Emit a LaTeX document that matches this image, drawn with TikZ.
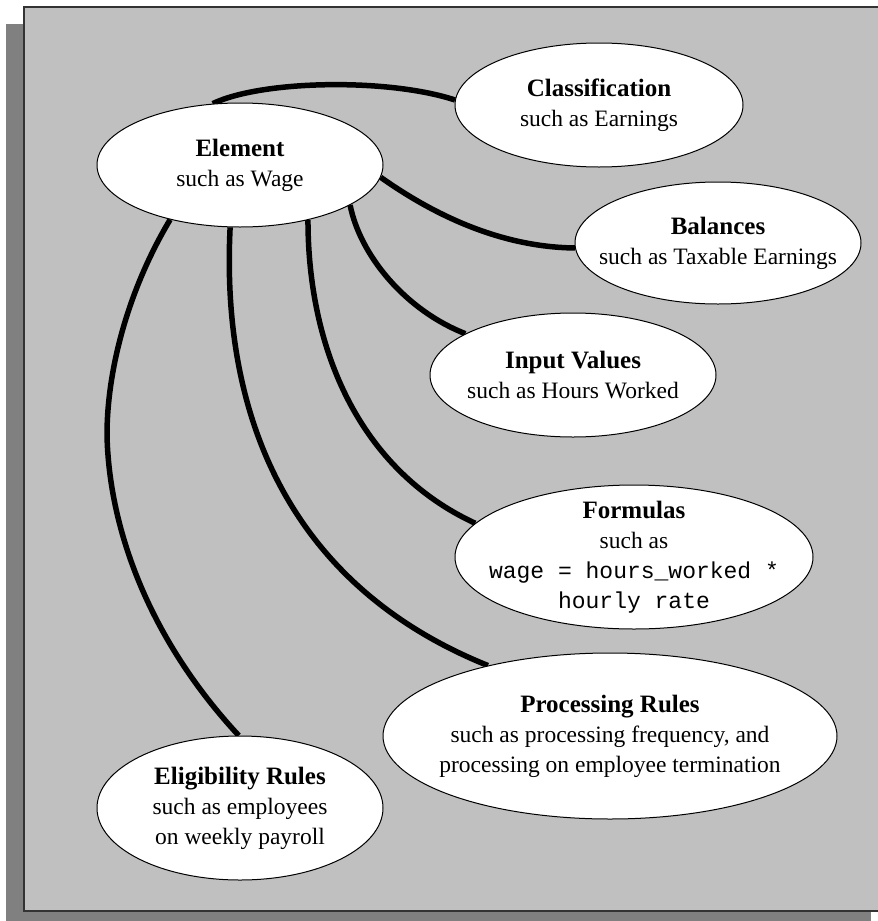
\documentclass[tikz,border=0pt]{standalone}
\usepackage{fontspec}
\setmainfont{Liberation Serif}
\setmonofont{Liberation Mono}
\usetikzlibrary{shapes.geometric}
\definecolor{panelgray}{HTML}{C0C0C0}
\definecolor{shadowgray}{HTML}{808080}
\definecolor{bordergray}{HTML}{333333}
\pgfdeclarelayer{bg}
\pgfdeclarelayer{links}
\pgfsetlayers{bg,links,main}
\begin{document}
\begin{tikzpicture}[x=1pt,y=-1pt,
  bubble/.style={ellipse,draw=black,line width=1pt,fill=white,inner sep=0pt},
  btext/.style={align=center,inner sep=0pt,font=\fontsize{23.5}{30}\selectfont},
  link/.style={line width=5.5pt,black}]
\useasboundingbox (0,0) rectangle (878,921);
\begin{pgfonlayer}{bg}
\fill[shadowgray] (6,24) rectangle (871,921);
\fill[panelgray] (24,7) rectangle (880,911);
\draw[bordergray,line width=2pt] (880,7) -- (24,7) -- (24,911) -- (880,911);
\end{pgfonlayer}

% bubbles
\node[bubble,minimum width=286pt,minimum height=124pt] (el)  at (240,165) {};
\node[bubble,minimum width=288pt,minimum height=124pt] (cl)  at (599,105) {};
\node[bubble,minimum width=286pt,minimum height=122pt] (ba)  at (718,243) {};
\node[bubble,minimum width=286pt,minimum height=124pt] (iv)  at (573,375) {};
\node[bubble,minimum width=358pt,minimum height=144pt] (fo)  at (634,557) {};
\node[bubble,minimum width=454pt,minimum height=166pt] (pr)  at (610,736) {};
\node[bubble,minimum width=286pt,minimum height=144pt] (eli) at (240,808) {};

% texts
\newcommand{\ttlfont}{\fontsize{25}{30}\selectfont\bfseries}
\newcommand{\codefont}{\ttfamily\fontsize{23}{30}\selectfont}
\node[btext] (elt) at (el.center) {{\ttlfont Element}\\such as Wage};
\node[btext] (clt) at (cl.center) {{\ttlfont Classification}\\such as Earnings};
\node[btext] (bat) at (ba.center) {{\ttlfont Balances}\\such as Taxable Earnings};
\node[btext] (ivt) at (iv.center) {{\ttlfont Input Values}\\such as Hours Worked};
\node[btext] (fot) at (fo.center) {{\ttlfont Formulas}\\such as\\{\codefont wage = hours\_worked *}\\{\codefont hourly rate}};
\node[btext] (prt) at (pr.center) {{\ttlfont Processing Rules}\\such as processing frequency, and\\processing on employee termination};
\node[btext] (elit) at (eli.center) {{\ttlfont Eligibility Rules}\\such as employees\\on weekly payroll};

% connectors
\coordinate (m6) at (107,435);
\begin{pgfonlayer}{links}
\draw[link] (el.114) .. controls (262,80) and (388,78) .. (cl.178);
\draw[link] (el.-5) .. controls (420,205) and (490,247) .. (ba.182);
\draw[link] (el.-20) .. controls (360,255) and (405,310) .. (iv.159);
\draw[link] (el.-39) .. controls (308,350) and (360,470) .. (fo.168);
\draw[link] (el.-99) .. controls (220,430) and (300,590) .. (pr.150);
\draw[link] (el.218) .. controls (128,290) and (107,370) .. (m6)
  .. controls (109,530) and (150,640) .. (eli.91);
\end{pgfonlayer}
\end{tikzpicture}
\end{document}
